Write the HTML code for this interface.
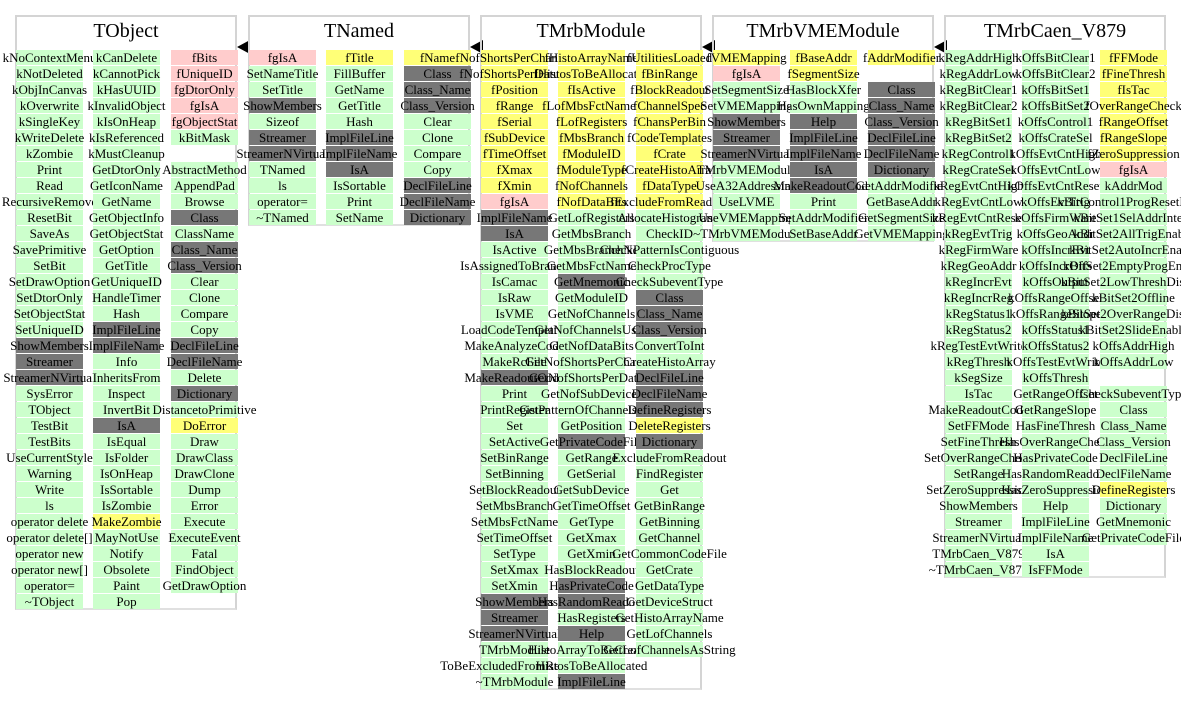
<!DOCTYPE html>
<html><head><meta charset="utf-8"><style>
body{margin:0;background:#fff;width:1181px;height:704px;overflow:hidden;position:relative;font-family:"Liberation Serif",serif}
.box{position:absolute;border:2px solid #d4d4d4;border-bottom-color:#e0e0e0;box-sizing:border-box;background:transparent}
.title{position:absolute;font-size:20px;text-align:center;line-height:30px}
.cell{position:absolute;height:15px;width:67px;display:flex;justify-content:center;align-items:center;font-size:13px;line-height:15px;white-space:nowrap;color:#000}
.G{background:#ccffcc}.Y{background:#ffff77}.P{background:#ffcccc}.D{background:#777777}
.arrow{position:absolute;width:0;height:0;border-top:7px solid transparent;border-bottom:7px solid transparent;border-right:13px solid #000}
</style></head><body>
<div id="root"></div>
<script>
const classNames=["TObject","TNamed","TMrbModule","TMrbVMEModule","TMrbCaen_V879"];
const boxLefts=[15,248,480,712,944];
const colTObject1=["kNoContextMenu","kNotDeleted","kObjInCanvas","kOverwrite","kSingleKey","kWriteDelete","kZombie","Print","Read","RecursiveRemove","ResetBit","SaveAs","SavePrimitive","SetBit","SetDrawOption","SetDtorOnly","SetObjectStat","SetUniqueID","g:ShowMembers","g:Streamer","g:StreamerNVirtual","SysError","TObject","TestBit","TestBits","UseCurrentStyle","Warning","Write","ls","operator delete","operator delete[]","operator new","operator new[]","operator=","~TObject"];
const colTObject2=["kCanDelete","kCannotPick","kHasUUID","kInvalidObject","kIsOnHeap","kIsReferenced","kMustCleanup","GetDtorOnly","GetIconName","GetName","GetObjectInfo","GetObjectStat","GetOption","GetTitle","GetUniqueID","HandleTimer","Hash","g:ImplFileLine","g:ImplFileName","Info","InheritsFrom","Inspect","InvertBit","g:IsA","IsEqual","IsFolder","IsOnHeap","IsSortable","IsZombie","y:MakeZombie","MayNotUse","Notify","Obsolete","Paint","Pop"];
const colTObject3=["p:fBits","p:fUniqueID","p:fgDtorOnly","p:fgIsA","p:fgObjectStat","kBitMask","","AbstractMethod","AppendPad","Browse","g:Class","ClassName","g:Class_Name","g:Class_Version","Clear","Clone","Compare","Copy","g:DeclFileLine","g:DeclFileName","Delete","g:Dictionary","DistancetoPrimitive","y:DoError","Draw","DrawClass","DrawClone","Dump","Error","Execute","ExecuteEvent","Fatal","FindObject","GetDrawOption"];
const colTNamed1=["p:fgIsA","SetNameTitle","SetTitle","g:ShowMembers","Sizeof","g:Streamer","g:StreamerNVirtual","TNamed","ls","operator=","~TNamed"];
const colTNamed2=["y:fTitle","FillBuffer","GetName","GetTitle","Hash","g:ImplFileLine","g:ImplFileName","g:IsA","IsSortable","Print","SetName"];
const colTNamed3=["y:fName","g:Class","g:Class_Name","g:Class_Version","Clear","Clone","Compare","Copy","g:DeclFileLine","g:DeclFileName","g:Dictionary"];
const colModule1=["y:fNofShortsPerChannel","y:fNofShortsPerDatum","y:fPosition","y:fRange","y:fSerial","y:fSubDevice","y:fTimeOffset","y:fXmax","y:fXmin","p:fgIsA","g:ImplFileName","g:IsA","IsActive","IsAssignedToBranch","IsCamac","IsRaw","IsVME","LoadCodeTemplates","MakeAnalyzeCode","MakeRcFile","g:MakeReadoutCode","Print","PrintRegister","Set","SetActive","SetBinRange","SetBinning","SetBlockReadout","SetMbsBranch","SetMbsFctName","SetTimeOffset","SetType","SetXmax","SetXmin","g:ShowMembers","g:Streamer","g:StreamerNVirtual","TMrbModule","ToBeExcludedFromReadout","~TMrbModule"];
const colModule2=["y:fHistoArrayName","y:fHistosToBeAllocated","y:fIsActive","y:fLofMbsFctNames","y:fLofRegisters","y:fMbsBranch","y:fModuleID","y:fModuleType","y:fNofChannels","y:fNofDataBits","GetLofRegisters","GetMbsBranch","GetMbsBranchNo","GetMbsFctName","g:GetMnemonic","GetModuleID","GetNofChannels","GetNofChannelsUsed","GetNofDataBits","GetNofShortsPerChannel","GetNofShortsPerDatum","GetNofSubDevices","GetPatternOfChannelsUsed","GetPosition","g:GetPrivateCodeFile","GetRange","GetSerial","GetSubDevice","GetTimeOffset","GetType","GetXmax","GetXmin","HasBlockReadout","g:HasPrivateCode","g:HasRandomReadout","HasRegisters","g:Help","HistoArrayToBeCreated","HistosToBeAllocated","g:ImplFileLine"];
const colModule3=["y:fUtilitiesLoaded","y:fBinRange","y:fBlockReadout","y:fChannelSpec","y:fChansPerBin","y:fCodeTemplates","y:fCrate","y:fCreateHistoArray","y:fDataType","y:fExcludeFromReadout","AllocateHistograms","CheckID","CheckPatternIsContiguous","CheckProcType","CheckSubeventType","g:Class","g:Class_Name","g:Class_Version","ConvertToInt","CreateHistoArray","g:DeclFileLine","g:DeclFileName","g:DefineRegisters","y:DeleteRegisters","g:Dictionary","ExcludeFromReadout","FindRegister","Get","GetBinRange","GetBinning","GetChannel","GetCommonCodeFile","GetCrate","GetDataType","GetDeviceStruct","GetHistoArrayName","GetLofChannels","GetLofChannelsAsString"];
const colVME1=["y:fVMEMapping","p:fgIsA","SetSegmentSize","SetVMEMapping","g:ShowMembers","g:Streamer","g:StreamerNVirtual","TMrbVMEModule","UseA32Addressing","UseLVME","UseVMEMapping","~TMrbVMEModule"];
const colVME2=["y:fBaseAddr","y:fSegmentSize","HasBlockXfer","HasOwnMapping","g:Help","g:ImplFileLine","g:ImplFileName","g:IsA","g:MakeReadoutCode","Print","SetAddrModifier","SetBaseAddr"];
const colVME3=["y:fAddrModifier","","g:Class","g:Class_Name","g:Class_Version","g:DeclFileLine","g:DeclFileName","g:Dictionary","GetAddrModifier","GetBaseAddr","GetSegmentSize","GetVMEMapping"];
const colCaen1=["kRegAddrHigh","kRegAddrLow","kRegBitClear1","kRegBitClear2","kRegBitSet1","kRegBitSet2","kRegControl1","kRegCrateSel","kRegEvtCntHigh","kRegEvtCntLow","kRegEvtCntReset","kRegEvtTrig","kRegFirmWare","kRegGeoAddr","kRegIncrEvt","kRegIncrReg","kRegStatus1","kRegStatus2","kRegTestEvtWrite","kRegThresh","kSegSize","IsTac","MakeReadoutCode","SetFFMode","SetFineThresh","SetOverRangeCheck","SetRange","SetZeroSuppression","ShowMembers","Streamer","StreamerNVirtual","TMrbCaen_V879","~TMrbCaen_V879"];
const colCaen2=["kOffsBitClear1","kOffsBitClear2","kOffsBitSet1","kOffsBitSet2","kOffsControl1","kOffsCrateSel","kOffsEvtCntHigh","kOffsEvtCntLow","kOffsEvtCntReset","kOffsEvtTrig","kOffsFirmWare","kOffsGeoAddr","kOffsIncrEvt","kOffsIncrOffs","kOffsOutput","kOffsRangeOffset","kOffsRangeSlope","kOffsStatus1","kOffsStatus2","kOffsTestEvtWrite","kOffsThresh","GetRangeOffset","GetRangeSlope","HasFineThresh","HasOverRangeCheck","HasPrivateCode","HasRandomReadout","HasZeroSuppression","Help","ImplFileLine","ImplFileName","IsA","IsFFMode"];
const colCaen3=["y:fFFMode","y:fFineThresh","y:fIsTac","y:fOverRangeCheck","y:fRangeOffset","y:fRangeSlope","y:fZeroSuppression","p:fgIsA","kAddrMod","kBitControl1ProgResetMode","kBitSet1SelAddrIntern","kBitSet2AllTrigEnable","kBitSet2AutoIncrEnable","kBitSet2EmptyProgEnable","kBitSet2LowThreshDisable","kBitSet2Offline","kBitSet2OverRangeDisable","kBitSet2SlideEnable","kOffsAddrHigh","kOffsAddrLow","","CheckSubeventType","Class","Class_Name","Class_Version","DeclFileLine","DeclFileName","y:DefineRegisters","Dictionary","GetMnemonic","GetPrivateCodeFile"];
const classCols=[[colTObject1,colTObject2,colTObject3],[colTNamed1,colTNamed2,colTNamed3],[colModule1,colModule2,colModule3],[colVME1,colVME2,colVME3],[colCaen1,colCaen2,colCaen3]];

const root=document.getElementById('root');
const TOP=15,ROW0=50,PITCH=16,BOXW=222,COLOFF=[1,78,156];
classNames.forEach((nm,i)=>{
  const x=boxLefts[i];
  const cols=classCols[i];
  const rows=Math.max(...cols.map(c=>c.length));
  const box=document.createElement('div');
  box.className='box';
  
  
  box.style.left=x+'px';box.style.top=TOP+'px';box.style.width=BOXW+'px';
  box.style.height=(ROW0-TOP+rows*PITCH)+'px';
  root.appendChild(box);
  const t=document.createElement('div');
  t.className='title';
  
  
  t.style.left=x+'px';t.style.top=(TOP+1)+'px';t.style.width=BOXW+'px';
  t.textContent=nm;
  root.appendChild(t);
  cols.forEach((col,ci)=>{
    col.forEach((s,ri)=>{
      if(s==='')return;
      let cls='G',txt=s;
      if(s.startsWith('y:')){cls='Y';txt=s.slice(2);}
      else if(s.startsWith('p:')){cls='P';txt=s.slice(2);}
      else if(s.startsWith('g:')){cls='D';txt=s.slice(2);}
      const c=document.createElement('div');
      c.className='cell '+cls;
      
      
      c.style.left=(x+COLOFF[ci])+'px';
      c.style.top=(ROW0+ri*PITCH)+'px';
      const sp=document.createElement('span');
      sp.textContent=txt;
      c.appendChild(sp);
      root.appendChild(c);
    });
  });
  if(i<classNames.length-1){
    const a=document.createElement('div');
    a.className='arrow';
    
    
    a.style.left=(x+BOXW)+'px';a.style.top='40px';
    root.appendChild(a);
  }
});
</script>
</body></html>
